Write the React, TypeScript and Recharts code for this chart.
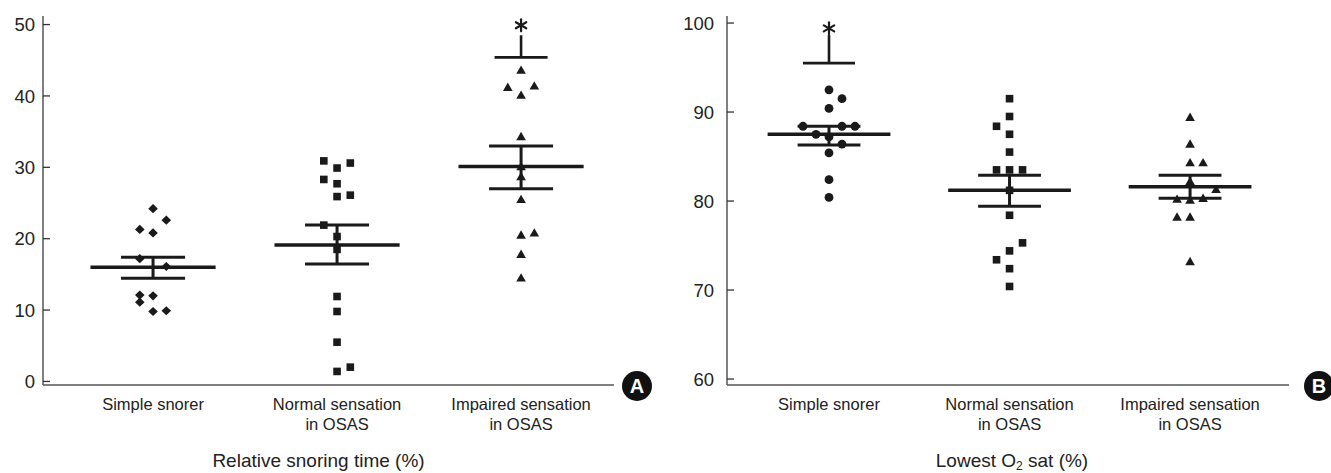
import { Label, ReferenceLine, Scatter, ScatterChart, XAxis, YAxis } from 'recharts';

const FONT = '"Liberation Sans", Arial, Helvetica, sans-serif';
const INK = '#1a1a1a';
const TEXT = '#222';
const AXIS = '#555';

// Jitter step (in category units) between side-by-side dots.
const JITTER = 0.072;

const GROUPS = ['Simple snorer', 'Normal sensation\nin OSAS', 'Impaired sensation\nin OSAS'];

// ---- Panel A: relative snoring time (%) ----
const A_SIMPLE_Y = [24.2, 22.6, 21.3, 20.8, 17.2, 16.1, 12.1, 12.0, 11.1, 9.8, 9.9];
const A_SIMPLE_COL = [0, 1, -1, 0, -1, 1, -1, 0, -1, 0, 1];
const A_NORMAL_Y = [30.9, 30.6, 29.9, 28.3, 27.7, 25.9, 26.1, 21.9, 20.3, 18.5, 11.9, 9.8, 5.5, 2.0, 1.4];
const A_NORMAL_COL = [-1, 1, 0, -1, 0, 0, 1, -1, 0, 0, 0, 0, 0, 1, 0];
const A_IMPAIRED_Y = [43.6, 41.2, 41.4, 40.1, 34.3, 30.1, 28.7, 25.5, 20.5, 20.8, 17.8, 14.5];
const A_IMPAIRED_COL = [0, -1, 1, 0, 0, 0, 0, 0, 0, 1, 0, 0];
const A_MEAN = [16.0, 19.1, 30.1];
const A_SEM_HI = [17.4, 21.9, 33.0];
const A_SEM_LO = [14.45, 16.45, 27.0];
// significance marker: group, bar level, stem top, asterisk
const A_SIG = { group: 2, bar: 45.4, top: 48.5, star: 49.9 };
const A_TICKS = [0, 10, 20, 30, 40, 50];

// ---- Panel B: lowest O2 saturation (%) ----
const B_SIMPLE_Y = [92.5, 91.5, 90.4, 88.4, 88.4, 88.4, 87.5, 87.2, 86.4, 85.4, 82.4, 80.4];
const B_SIMPLE_COL = [0, 1, 0, -2, 1, 2, -1, 0, 1, 0, 0, 0];
const B_NORMAL_Y = [91.5, 89.5, 88.4, 87.5, 85.5, 83.5, 83.5, 83.5, 81.2, 78.4, 75.3, 74.4, 73.4, 72.4, 70.4];
const B_NORMAL_COL = [0, 0, -1, 0, 0, -1, 0, 1, 0, 0, 1, 0, -1, 0, 0];
const B_IMPAIRED_Y = [89.4, 86.4, 84.3, 84.3, 82.2, 81.3, 80.2, 80.1, 80.3, 78.2, 78.2, 73.2];
const B_IMPAIRED_COL = [0, 0, 0, 1, 0, 2, -1, 0, 1, -1, 0, 0];
const B_MEAN = [87.5, 81.2, 81.6];
const B_SEM_HI = [88.4, 82.9, 82.9];
const B_SEM_LO = [86.3, 79.4, 80.3];
const B_SIG = { group: 0, bar: 95.5, top: 98.65, star: 99.4 };
const B_TICKS = [60, 70, 80, 90, 100];

type Pt = { x: number; y: number };
const toPoints = (group: number, ys: number[], cols: number[]): Pt[] =>
  ys.map((y, i) => ({ x: group + cols[i] * JITTER, y }));

// ---- marker shapes ----
const Diamond = (p: any) => (
  <polygon
    points={`${p.cx},${p.cy - 4.6} ${p.cx + 4.8},${p.cy} ${p.cx},${p.cy + 4.6} ${p.cx - 4.8},${p.cy}`}
    fill={INK}
  />
);
const Square = (p: any) => <rect x={p.cx - 3.8} y={p.cy - 3.8} width={7.6} height={7.6} fill={INK} />;
const Circle = (p: any) => <circle cx={p.cx} cy={p.cy} r={4.4} fill={INK} />;
const Triangle = (p: any) => (
  <polygon
    points={`${p.cx},${p.cy - 4.8} ${p.cx + 4.8},${p.cy + 3.6} ${p.cx - 4.8},${p.cy + 3.6}`}
    fill={INK}
  />
);
const Asterisk = (p: any) => {
  const r = 6;
  const dx = r * Math.cos(Math.PI / 6);
  const dy = r * Math.sin(Math.PI / 6);
  return (
    <g stroke={INK} strokeWidth={2.2} strokeLinecap="round">
      <line x1={p.cx} y1={p.cy - r} x2={p.cx} y2={p.cy + r} />
      <line x1={p.cx - dx} y1={p.cy - dy} x2={p.cx + dx} y2={p.cy + dy} />
      <line x1={p.cx - dx} y1={p.cy + dy} x2={p.cx + dx} y2={p.cy - dy} />
    </g>
  );
};

const CategoryTick = (p: any) => {
  const lines = GROUPS[p.payload.value].split('\n');
  return (
    <text x={p.x} y={p.y} textAnchor="middle" fontFamily={FONT} fontSize={16.5} fill={TEXT}>
      {lines.map((l, i) => (
        <tspan key={l} x={p.x} dy={i === 0 ? 25 : 20}>
          {l}
        </tspan>
      ))}
    </text>
  );
};

const titleA = (p: any) => {
  const vb = p.viewBox;
  return (
    <text x={vb.x + vb.width / 2 - 10} y={vb.y + 82} textAnchor="middle" fontFamily={FONT} fontSize={19} fill={TEXT}>
      Relative snoring time (%)
    </text>
  );
};

const titleB = (p: any) => {
  const vb = p.viewBox;
  return (
    <text x={vb.x + vb.width / 2 + 4} y={vb.y + 82} textAnchor="middle" fontFamily={FONT} fontSize={19} fill={TEXT}>
      <tspan>Lowest O</tspan>
      <tspan fontSize={12} dy={3}>2</tspan>
      <tspan dy={-3}> sat (%)</tspan>
    </text>
  );
};

const MEAN_HALF = 0.34;
const SEM_HALF = 0.174;
const SIG_HALF = 0.144;

function summaryLines(mean: number[], hi: number[], lo: number[]) {
  const out: any[] = [];
  mean.forEach((m, g) => {
    out.push(
      <ReferenceLine key={`m${g}`} segment={[{ x: g - MEAN_HALF, y: m }, { x: g + MEAN_HALF, y: m }]} stroke={INK} strokeWidth={3.5} />,
      <ReferenceLine key={`h${g}`} segment={[{ x: g - SEM_HALF, y: hi[g] }, { x: g + SEM_HALF, y: hi[g] }]} stroke={INK} strokeWidth={3} />,
      <ReferenceLine key={`l${g}`} segment={[{ x: g - SEM_HALF, y: lo[g] }, { x: g + SEM_HALF, y: lo[g] }]} stroke={INK} strokeWidth={3} />,
      <ReferenceLine key={`v${g}`} segment={[{ x: g, y: lo[g] }, { x: g, y: hi[g] }]} stroke={INK} strokeWidth={3} />,
    );
  });
  return out;
}

function sigLines(sig: { group: number; bar: number; top: number }) {
  return [
    <ReferenceLine key="sb" segment={[{ x: sig.group - SIG_HALF, y: sig.bar }, { x: sig.group + SIG_HALF, y: sig.bar }]} stroke={INK} strokeWidth={2.6} />,
    <ReferenceLine key="st" segment={[{ x: sig.group, y: sig.bar }, { x: sig.group, y: sig.top }]} stroke={INK} strokeWidth={2.6} />,
  ];
}

const yTick = { fontSize: 18.5, fill: TEXT, fontFamily: FONT };

function PanelA() {
  return (
    <ScatterChart width={660} height={473} margin={{ top: 16, right: 46, bottom: 0, left: 0 }}>
      <XAxis
        type="number"
        dataKey="x"
        domain={[-0.598, 2.505]}
        ticks={[0, 1, 2]}
        allowDataOverflow
        tickLine={false}
        tickSize={0}
        tickMargin={0}
        height={88}
        axisLine={{ stroke: AXIS, strokeWidth: 1.5 }}
        tick={<CategoryTick />}
      >
        <Label content={titleA} />
      </XAxis>
      <YAxis
        type="number"
        dataKey="y"
        domain={[-0.5, 51.2]}
        ticks={A_TICKS}
        allowDataOverflow
        width={43}
        tickSize={-7}
        tickMargin={15}
        tickLine={{ stroke: '#333', strokeWidth: 1.3 }}
        axisLine={{ stroke: AXIS, strokeWidth: 1.5 }}
        tick={yTick}
      />
      {summaryLines(A_MEAN, A_SEM_HI, A_SEM_LO)}
      {sigLines(A_SIG)}
      <Scatter data={toPoints(0, A_SIMPLE_Y, A_SIMPLE_COL)} shape={Diamond} isAnimationActive={false} />
      <Scatter data={toPoints(1, A_NORMAL_Y, A_NORMAL_COL)} shape={Square} isAnimationActive={false} />
      <Scatter data={toPoints(2, A_IMPAIRED_Y, A_IMPAIRED_COL)} shape={Triangle} isAnimationActive={false} />
      <Scatter data={[{ x: A_SIG.group, y: A_SIG.star }]} shape={Asterisk} isAnimationActive={false} />
    </ScatterChart>
  );
}

function PanelB() {
  return (
    <ScatterChart width={651} height={473} margin={{ top: 16, right: 42, bottom: 0, left: 0 }}>
      <XAxis
        type="number"
        dataKey="x"
        domain={[-0.565, 2.548]}
        ticks={[0, 1, 2]}
        allowDataOverflow
        tickLine={false}
        tickSize={0}
        tickMargin={0}
        height={88}
        axisLine={{ stroke: AXIS, strokeWidth: 1.5 }}
        tick={<CategoryTick />}
      >
        <Label content={titleB} />
      </XAxis>
      <YAxis
        type="number"
        dataKey="y"
        domain={[59.33, 100.79]}
        ticks={B_TICKS}
        allowDataOverflow
        width={47}
        tickSize={-7}
        tickMargin={20}
        tickLine={{ stroke: '#333', strokeWidth: 1.3 }}
        axisLine={{ stroke: AXIS, strokeWidth: 1.5 }}
        tick={yTick}
      />
      {summaryLines(B_MEAN, B_SEM_HI, B_SEM_LO)}
      {sigLines(B_SIG)}
      <Scatter data={toPoints(0, B_SIMPLE_Y, B_SIMPLE_COL)} shape={Circle} isAnimationActive={false} />
      <Scatter data={toPoints(1, B_NORMAL_Y, B_NORMAL_COL)} shape={Square} isAnimationActive={false} />
      <Scatter data={toPoints(2, B_IMPAIRED_Y, B_IMPAIRED_COL)} shape={Triangle} isAnimationActive={false} />
      <Scatter data={[{ x: B_SIG.group, y: B_SIG.star }]} shape={Asterisk} isAnimationActive={false} />
    </ScatterChart>
  );
}

const badge = (left: number, letter: string) => (
  <div
    style={{
      position: 'absolute',
      left,
      top: 371,
      width: 30,
      height: 30,
      borderRadius: '50%',
      background: '#111',
      color: '#fff',
      fontFamily: FONT,
      fontWeight: 700,
      fontSize: 20,
      lineHeight: '30px',
      textAlign: 'center',
    }}
  >
    {letter}
  </div>
);

export default function App() {
  return (
    <div style={{ position: 'absolute', left: 0, top: 0, width: 1331, height: 473, background: '#fff', overflow: 'hidden' }}>
      <div style={{ position: 'absolute', left: 0, top: 0 }}>
        <PanelA />
      </div>
      <div style={{ position: 'absolute', left: 680, top: 0 }}>
        <PanelB />
      </div>
      {badge(622, 'A')}
      {badge(1304, 'B')}
    </div>
  );
}
